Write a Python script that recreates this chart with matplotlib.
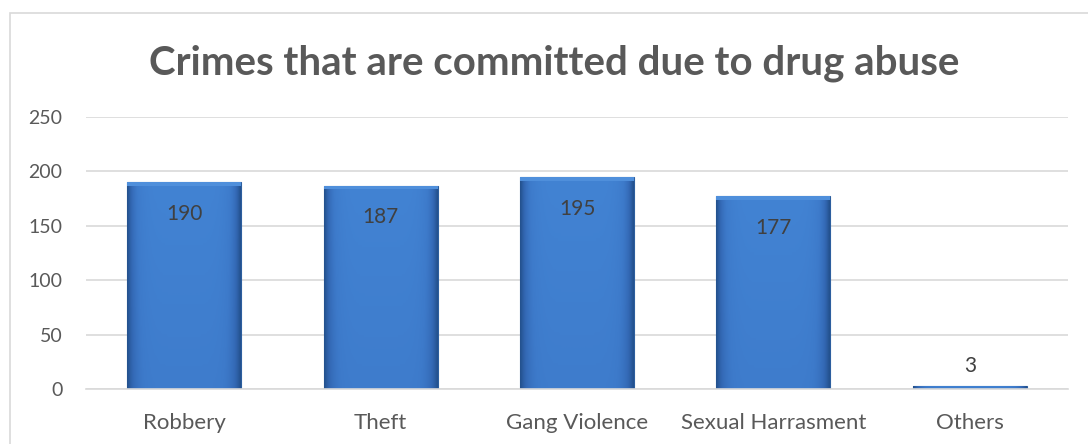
import numpy as np
from matplotlib import pyplot as plt
from matplotlib.colors import LinearSegmentedColormap
from matplotlib.patches import Rectangle

categories = ["Robbery", "Theft", "Gang Violence", "Sexual Harrasment", "Others"]
counts = [190, 187, 195, 177, 3]
y_ticks = [0, 50, 100, 150, 200, 250]

TEXT_GREY = "#595959"
plt.rcParams['font.family'] = ['Lato', 'DejaVu Sans']

fig = plt.figure(figsize=(10.88, 4.44), dpi=100)
ax = fig.add_axes([0.079, 0.124, 0.9026, 0.6125])

x = np.arange(len(categories))
bars = ax.bar(x, counts, width=0.58, color="#3B78C8", edgecolor="#2C5E9E", linewidth=0.8, zorder=2)

# fake the bevelled gradient look of the original
bar_cmap = LinearSegmentedColormap.from_list("bevel", ["#24528F", "#3368B4", "#3D7ACA", "#4283D3"])
hx = 1 - np.abs(np.linspace(-1, 1, 80)) ** 6
vy = 0.75 + 0.25 * np.linspace(0, 1, 80)
shade = np.outer(vy, hx)
for bar in bars:
    x0, y0 = bar.get_x(), bar.get_y()
    w, h = bar.get_width(), bar.get_height()
    im = ax.imshow(shade, extent=[x0, x0 + w, y0, y0 + h], aspect='auto', cmap=bar_cmap,
                   vmin=0, vmax=1, zorder=2.1, origin='lower', interpolation='bilinear')
    im.set_clip_path(bar)
    if h > 10:
        ax.add_patch(Rectangle((x0, y0 + h - 3.5), w, 3.5, facecolor="#4F8FDB",
                               edgecolor="none", zorder=2.2))

for xi, val in zip(x, counts):
    if val > 20:
        ax.text(xi, val - 20, str(val), ha='center', va='top', fontsize=15, color="#404040", zorder=3)
    else:
        ax.text(xi, val + 9, str(val), ha='center', va='bottom', fontsize=15, color="#404040", zorder=3)

ax.set_xlim(-0.5, len(categories) - 0.5)
ax.set_ylim(0, 250)
ax.set_yticks(y_ticks)
ax.set_xticks(x)
ax.set_xticklabels(categories)
ax.tick_params(axis='y', length=0, labelsize=14, colors=TEXT_GREY, pad=17)
ax.tick_params(axis='x', length=0, labelsize=16, colors=TEXT_GREY, pad=17)
ax.grid(axis='y', color="#D9D9D9", linewidth=1.2, zorder=0)
for side in ['top', 'right', 'left']:
    ax.spines[side].set_visible(False)
ax.spines['bottom'].set_color("#D9D9D9")
ax.spines['bottom'].set_linewidth(1.2)

fig.text(0.509, 0.858, "Crimes that are committed due to drug abuse", ha='center', va='center',
         fontsize=29, fontweight='bold', color=TEXT_GREY)

# chart frame
frame = Rectangle((10 / 1088, -0.05), 1.2, 1 - 13 / 444 + 0.05, transform=fig.transFigure,
                  fill=False, edgecolor="#D9D9D9", linewidth=1.2)
fig.patches.append(frame)

fig.savefig("out.png", dpi=100)
